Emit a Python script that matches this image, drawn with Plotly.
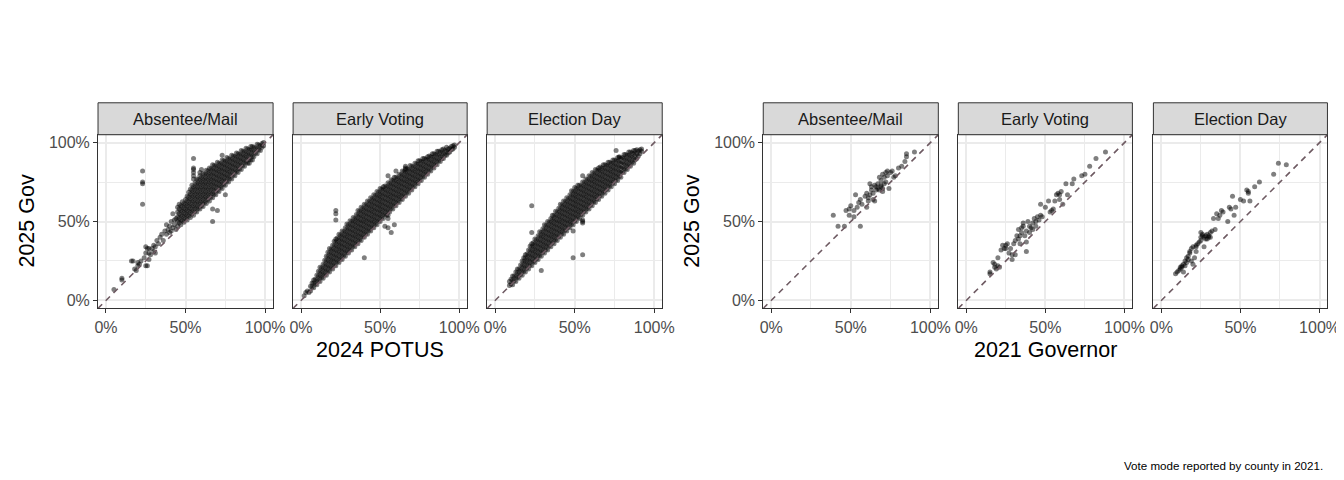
import plotly.graph_objects as go

# the page shot comes out slightly shifted and squeezed sideways, so window
# pixel positions are mapped back onto figure pixels below (px_x / px_y)
W, H = 1372, 464
SX, OX, OY = 0.988, 11, 7

modes = ["Absentee/Mail", "Early Voting", "Election Day"]

# 2024 POTUS vs 2025 Gov (percent). dense band as (x, [y values]) columns
potus_mail_cols = [
    (45, [47, 50, 53, 56, 59]), (46, [49, 52, 55, 58, 61]), (47, [48, 51, 54, 57, 60]),
    (48, [50.5, 53.5, 56.5, 59.5, 62.5]), (49, [49.5, 52.5, 55.5, 58.5, 61.5]),
    (50, [52, 55, 58, 61, 64]), (51, [51, 54, 57, 60, 63, 66]),
    (52, [53.5, 56.5, 59.5, 62.5, 65.5, 68.5]), (53, [52.5, 55.5, 58.5, 61.5, 64.5, 67.5, 70.5]),
    (54, [55, 58, 61, 64, 67, 70, 73]), (55, [54, 57, 60, 63, 66, 69, 72]),
    (56, [56.5, 59.5, 62.5, 65.5, 68.5, 71.5, 74.5]), (57, [56, 59, 62, 65, 68, 71, 74, 77]),
    (58, [58.5, 61.5, 64.5, 67.5, 70.5, 73.5, 76.5]), (59, [58, 61, 64, 67, 70, 73, 76, 79]),
    (60, [60, 63, 66, 69, 72, 75, 78]), (61, [59.5, 62.5, 65.5, 68.5, 71.5, 74.5, 77.5, 80.5]),
    (62, [62, 65, 68, 71, 74, 77, 80]), (63, [61.5, 64.5, 67.5, 70.5, 73.5, 76.5, 79.5, 82.5]),
    (64, [64, 67, 70, 73, 76, 79, 82]), (65, [63, 66, 69, 72, 75, 78, 81, 84]),
    (66, [65.5, 68.5, 71.5, 74.5, 77.5, 80.5, 83.5]), (67, [65, 68, 71, 74, 77, 80, 83, 86]),
    (68, [67.5, 70.5, 73.5, 76.5, 79.5, 82.5, 85.5]), (69, [67, 70, 73, 76, 79, 82, 85]),
    (70, [69.5, 72.5, 75.5, 78.5, 81.5, 84.5, 87.5]), (71, [69, 72, 75, 78, 81, 84, 87]),
    (72, [71.5, 74.5, 77.5, 80.5, 83.5, 86.5]), (73, [71, 74, 77, 80, 83, 86, 89]),
    (74, [73.5, 76.5, 79.5, 82.5, 85.5, 88.5]), (75, [73, 76, 79, 82, 85, 88]),
    (76, [75.5, 78.5, 81.5, 84.5, 87.5, 90.5]), (77, [75, 78, 81, 84, 87, 90]),
    (78, [77.5, 80.5, 83.5, 86.5, 89.5]), (79, [77, 80, 83, 86, 89, 92]),
    (80, [79.5, 82.5, 85.5, 88.5, 91.5]), (81, [79, 82, 85, 88, 91]),
    (82, [81.5, 84.5, 87.5, 90.5, 93.5]), (83, [81, 84, 87, 90, 93]),
    (84, [83.5, 86.5, 89.5, 92.5]), (85, [83, 86, 89, 92, 95]), (86, [85.5, 88.5, 91.5, 94.5]),
    (87, [85, 88, 91, 94]), (88, [87.5, 90.5, 93.5, 96.5]), (89, [87, 90, 93, 96]),
    (90, [89.5, 92.5, 95.5]), (91, [89, 92, 95, 97.5]), (92, [91.5, 94.5, 97.5]),
    (93, [91, 94, 97]), (94, [93.5, 96.5]), (95, [93, 96, 99]), (96, [95.5, 98.5]),
    (97, [95, 98]), (98, [97, 99.5]), (99, [98, 100]),
]
potus_mail_extra = [
    (5, 7), (10, 14), (10, 13), (17, 25), (18, 20), (19, 19), (20, 22), (21, 23), (22, 25),
    (24, 27), (25, 34), (26, 33), (27, 33), (25, 30), (26, 22), (27, 26), (28, 29), (29, 33),
    (30, 35), (31, 34), (30, 31), (32, 38), (33, 36), (34, 40), (35, 42), (36, 38), (37, 44),
    (38, 42), (38, 48), (39, 45), (40, 43), (40, 47), (41, 50), (41, 44), (42, 46), (43, 51),
    (43, 48), (44, 52), (44, 45), (42, 55), (16, 25), (20, 24), (25, 22), (27, 30), (31, 30),
    (23, 82), (23, 75), (23, 74), (23, 61), (55, 90), (55, 84), (55, 83), (55, 81), (55, 79),
    (55, 77), (67, 58), (70, 57), (67, 50), (75, 67), (73, 92), (90, 87), (92, 89), (59, 81),
    (60, 83),
]

potus_early_cols = [
    (6, [6, 9]), (7, [8.5, 11]), (8, [8, 11, 13]), (9, [10.5, 13.5]), (10, [10, 13, 16]),
    (11, [12.5, 15.5, 18.5]), (12, [12, 15, 18, 21]), (13, [14.5, 17.5, 20.5]),
    (14, [14, 17, 20, 23]), (15, [16.5, 19.5, 22.5, 25.5]), (16, [16, 19, 22, 25, 28]),
    (17, [18.5, 21.5, 24.5, 27.5, 30.5]), (18, [18, 21, 24, 27, 30, 33]),
    (19, [20.5, 23.5, 26.5, 29.5, 32.5]), (20, [20, 23, 26, 29, 32, 35]),
    (21, [22.5, 25.5, 28.5, 31.5, 34.5, 37.5]), (22, [22, 25, 28, 31, 34, 37, 39]),
    (23, [24.5, 27.5, 30.5, 33.5, 36.5, 39.5]), (24, [24, 27, 30, 33, 36, 39, 42]),
    (25, [26.5, 29.5, 32.5, 35.5, 38.5, 41.5]), (26, [26, 29, 32, 35, 38, 41, 44]),
    (27, [28.5, 31.5, 34.5, 37.5, 40.5, 43.5]), (28, [28, 31, 34, 37, 40, 43, 46]),
    (29, [30.5, 33.5, 36.5, 39.5, 42.5, 45.5, 48.5]), (30, [30, 33, 36, 39, 42, 45, 48]),
    (31, [32.5, 35.5, 38.5, 41.5, 44.5, 47.5, 50.5]), (32, [32, 35, 38, 41, 44, 47, 50]),
    (33, [34.5, 37.5, 40.5, 43.5, 46.5, 49.5, 52.5]), (34, [34, 37, 40, 43, 46, 49, 52]),
    (35, [36.5, 39.5, 42.5, 45.5, 48.5, 51.5, 54.5]), (36, [36, 39, 42, 45, 48, 51, 54, 57]),
    (37, [38.5, 41.5, 44.5, 47.5, 50.5, 53.5, 56.5]), (38, [38, 41, 44, 47, 50, 53, 56, 59]),
    (39, [40.5, 43.5, 46.5, 49.5, 52.5, 55.5, 58.5]), (40, [40, 43, 46, 49, 52, 55, 58, 61]),
    (41, [42.5, 45.5, 48.5, 51.5, 54.5, 57.5, 60.5]), (42, [42, 45, 48, 51, 54, 57, 60, 63]),
    (43, [44.5, 47.5, 50.5, 53.5, 56.5, 59.5, 62.5]), (44, [44, 47, 50, 53, 56, 59, 62, 65]),
    (45, [46.5, 49.5, 52.5, 55.5, 58.5, 61.5, 64.5]), (46, [46, 49, 52, 55, 58, 61, 64, 67]),
    (47, [48.5, 51.5, 54.5, 57.5, 60.5, 63.5, 66.5]), (48, [48, 51, 54, 57, 60, 63, 66, 69]),
    (49, [50.5, 53.5, 56.5, 59.5, 62.5, 65.5, 68.5]), (50, [50, 53, 56, 59, 62, 65, 68, 71]),
    (51, [52.5, 55.5, 58.5, 61.5, 64.5, 67.5, 70.5]), (52, [52, 55, 58, 61, 64, 67, 70, 72]),
    (53, [54.5, 57.5, 60.5, 63.5, 66.5, 69.5, 72.5]), (54, [54, 57, 60, 63, 66, 69, 72]),
    (55, [56.5, 59.5, 62.5, 65.5, 68.5, 71.5, 74.5]), (56, [56, 59, 62, 65, 68, 71, 74]),
    (57, [58.5, 61.5, 64.5, 67.5, 70.5, 73.5, 76.5]), (58, [58, 61, 64, 67, 70, 73, 76]),
    (59, [60.5, 63.5, 66.5, 69.5, 72.5, 75.5, 78]), (60, [60, 63, 66, 69, 72, 75, 78]),
    (61, [62.5, 65.5, 68.5, 71.5, 74.5, 77.5]), (62, [62, 65, 68, 71, 74, 77, 80]),
    (63, [64.5, 67.5, 70.5, 73.5, 76.5, 79.5]), (64, [64, 67, 70, 73, 76, 79, 82]),
    (65, [66.5, 69.5, 72.5, 75.5, 78.5, 81.5]), (66, [66, 69, 72, 75, 78, 81, 83]),
    (67, [68.5, 71.5, 74.5, 77.5, 80.5, 83.5]), (68, [68, 71, 74, 77, 80, 83]),
    (69, [70.5, 73.5, 76.5, 79.5, 82.5, 85.5]), (70, [70, 73, 76, 79, 82, 85]),
    (71, [72.5, 75.5, 78.5, 81.5, 84.5]), (72, [72, 75, 78, 81, 84, 87]),
    (73, [74.5, 77.5, 80.5, 83.5, 86.5]), (74, [74, 77, 80, 83, 86, 88.5]),
    (75, [76.5, 79.5, 82.5, 85.5, 88.5]), (76, [76, 79, 82, 85, 88]),
    (77, [78.5, 81.5, 84.5, 87.5, 90]), (78, [78, 81, 84, 87, 90]),
    (79, [80.5, 83.5, 86.5, 89.5]), (80, [80, 83, 86, 89, 91]), (81, [82.5, 85.5, 88.5, 91.5]),
    (82, [82, 85, 88, 91]), (83, [84.5, 87.5, 90.5, 93]), (84, [84, 87, 90, 93]),
    (85, [86.5, 89.5, 92.5]), (86, [86, 89, 92, 94.5]), (87, [88.5, 91.5, 94.5]),
    (88, [88, 91, 94]), (89, [90, 93, 95.5]), (90, [90, 93, 96]), (91, [92, 95]),
    (92, [92, 94.5, 97]), (93, [93.5, 96]), (94, [94, 96.5]), (95, [95.5, 97.5]),
    (96, [96, 98]), (97, [97, 98.5]),
]
potus_early_extra = [
    (2, 3), (3, 5), (4, 6), (5, 5), (22, 57), (22, 55), (22, 51), (40, 27), (55, 79), (60, 82),
    (66, 85), (66, 84), (53, 47), (55, 52), (55, 54), (57, 43), (55, 46), (59, 48),
]

potus_eday_cols = [
    (9, [9.5, 12]), (10, [10.5, 13.5]), (11, [10, 13, 15.5]), (12, [12.5, 15.5]),
    (13, [12, 15, 18]), (14, [14.5, 17.5, 20]), (15, [14, 17, 20]), (16, [16.5, 19.5, 22.5]),
    (17, [16, 19, 22, 25]), (18, [18.5, 21.5, 24.5, 27]), (19, [18, 21, 24, 27, 29]),
    (20, [20.5, 23.5, 26.5, 29.5]), (21, [20, 23, 26, 29, 32]),
    (22, [22.5, 25.5, 28.5, 31.5, 34.5]), (23, [22, 25, 28, 31, 34, 36]),
    (24, [24.5, 27.5, 30.5, 33.5, 36.5]), (25, [24, 27, 30, 33, 36, 39]),
    (26, [26.5, 29.5, 32.5, 35.5, 38.5]), (27, [26, 29, 32, 35, 38, 41]),
    (28, [28.5, 31.5, 34.5, 37.5, 40.5, 43.5]), (29, [28, 31, 34, 37, 40, 43]),
    (30, [30.5, 33.5, 36.5, 39.5, 42.5, 45.5]), (31, [30, 33, 36, 39, 42, 45, 48]),
    (32, [32.5, 35.5, 38.5, 41.5, 44.5, 47.5]), (33, [32, 35, 38, 41, 44, 47, 50]),
    (34, [34.5, 37.5, 40.5, 43.5, 46.5, 49.5]), (35, [34, 37, 40, 43, 46, 49, 52]),
    (36, [36.5, 39.5, 42.5, 45.5, 48.5, 51.5, 54]), (37, [36, 39, 42, 45, 48, 51, 54]),
    (38, [38.5, 41.5, 44.5, 47.5, 50.5, 53.5, 56.5]), (39, [38, 41, 44, 47, 50, 53, 56]),
    (40, [40.5, 43.5, 46.5, 49.5, 52.5, 55.5, 58.5]), (41, [40, 43, 46, 49, 52, 55, 58, 61]),
    (42, [42.5, 45.5, 48.5, 51.5, 54.5, 57.5, 60.5]), (43, [42, 45, 48, 51, 54, 57, 60, 63]),
    (44, [44.5, 47.5, 50.5, 53.5, 56.5, 59.5, 62.5]), (45, [44, 47, 50, 53, 56, 59, 62, 65]),
    (46, [46.5, 49.5, 52.5, 55.5, 58.5, 61.5, 64.5]), (47, [46, 49, 52, 55, 58, 61, 64, 67]),
    (48, [48.5, 51.5, 54.5, 57.5, 60.5, 63.5, 66.5, 69.5]), (49, [48, 51, 54, 57, 60, 63, 66, 69]),
    (50, [50.5, 53.5, 56.5, 59.5, 62.5, 65.5, 68.5, 71.5]), (51, [50, 53, 56, 59, 62, 65, 68, 71]),
    (52, [52.5, 55.5, 58.5, 61.5, 64.5, 67.5, 70.5, 73]), (53, [52, 55, 58, 61, 64, 67, 70, 73]),
    (54, [54.5, 57.5, 60.5, 63.5, 66.5, 69.5, 72.5]), (55, [54, 57, 60, 63, 66, 69, 72, 75]),
    (56, [56.5, 59.5, 62.5, 65.5, 68.5, 71.5, 74.5]), (57, [56, 59, 62, 65, 68, 71, 74, 77]),
    (58, [58.5, 61.5, 64.5, 67.5, 70.5, 73.5, 76.5]), (59, [58, 61, 64, 67, 70, 73, 76, 79]),
    (60, [60.5, 63.5, 66.5, 69.5, 72.5, 75.5, 78.5]), (61, [60, 63, 66, 69, 72, 75, 78, 81]),
    (62, [62.5, 65.5, 68.5, 71.5, 74.5, 77.5, 80.5]), (63, [62, 65, 68, 71, 74, 77, 80, 83]),
    (64, [64.5, 67.5, 70.5, 73.5, 76.5, 79.5, 82.5]), (65, [64, 67, 70, 73, 76, 79, 82, 84]),
    (66, [66.5, 69.5, 72.5, 75.5, 78.5, 81.5, 84.5]), (67, [66, 69, 72, 75, 78, 81, 84]),
    (68, [68.5, 71.5, 74.5, 77.5, 80.5, 83.5, 86]), (69, [68, 71, 74, 77, 80, 83, 86]),
    (70, [70.5, 73.5, 76.5, 79.5, 82.5, 85.5]), (71, [70, 73, 76, 79, 82, 85, 87.5]),
    (72, [72.5, 75.5, 78.5, 81.5, 84.5, 87.5]), (73, [72, 75, 78, 81, 84, 87]),
    (74, [74.5, 77.5, 80.5, 83.5, 86.5, 89]), (75, [74, 77, 80, 83, 86, 89]),
    (76, [76.5, 79.5, 82.5, 85.5, 88.5]), (77, [76, 79, 82, 85, 88, 90.5]),
    (78, [78.5, 81.5, 84.5, 87.5, 90.5]), (79, [78, 81, 84, 87, 90]),
    (80, [81.5, 84.5, 87.5, 90.5]), (81, [81, 84, 87, 90, 92.5]), (82, [83.5, 86.5, 89.5, 92.5]),
    (83, [83, 86, 89, 92]), (84, [85.5, 88.5, 91.5, 94]), (85, [85, 88, 91, 94]),
    (86, [87.5, 90.5, 93.5]), (87, [87, 90, 93, 95]), (88, [89, 92, 95]), (89, [90, 93, 95.5]),
    (90, [91.5, 94.5]), (91, [93, 95.5]), (92, [94.5, 96]),
]
potus_eday_extra = [
    (23, 60), (23, 43), (29, 19), (49, 27), (55, 29), (49, 44), (55, 51), (55, 50), (55, 49),
    (55, 79), (76, 95), (78, 91),
]

# 2021 Governor vs 2025 Gov (percent)
gov_mail = [
    (39, 54), (42, 47), (46, 47), (56, 47), (47, 57), (49, 58), (50, 60), (49, 54), (52, 53),
    (53, 67), (52, 57), (54, 59), (55, 62), (56, 64), (57, 61), (59, 66), (60, 59), (61, 63),
    (62, 67), (63, 70), (64, 64), (65, 63), (62, 74), (64, 68), (66, 72), (67, 74), (68, 78),
    (69, 76), (70, 71), (71, 78), (72, 81), (73, 82), (74, 71), (75, 81), (76, 82), (77, 78),
    (78, 79), (80, 84), (82, 85), (84, 88), (85, 91), (85, 93), (90, 94), (63, 72), (65, 73),
    (67, 71), (69, 73), (60, 68), (61, 65), (68, 70), (70, 69), (72, 75), (73, 79), (70, 80),
    (66, 70), (69, 72), (71, 74),
]
gov_early = [
    (15, 18), (15, 17), (17, 24), (18, 23), (18, 21), (20, 22), (21, 21), (20, 27), (22, 32),
    (23, 35), (25, 35), (26, 36), (25, 33), (28, 33), (29, 29), (29, 26), (27, 30), (24, 33),
    (30, 36), (31, 38), (32, 41), (33, 39), (34, 41), (33, 45), (35, 43), (35, 46), (36, 47),
    (37, 41), (38, 37), (38, 31), (38, 44), (39, 50), (40, 47), (41, 46), (42, 49), (43, 52),
    (44, 47), (45, 53), (46, 51), (47, 54), (48, 53), (47, 61), (50, 59), (52, 63), (53, 56),
    (55, 58), (54, 57), (56, 63), (57, 67), (58, 68), (59, 67), (60, 69), (59, 64), (61, 61),
    (64, 67), (63, 74), (67, 74), (68, 77), (73, 79), (75, 80), (78, 85), (82, 90), (88, 94),
    (31, 29), (36, 49), (40, 43), (42, 45), (44, 50), (34, 36), (19, 20),
]
gov_eday = [
    (9, 17), (10, 18), (11, 19), (12, 21), (13, 22), (14, 23), (15, 25), (16, 27), (17, 28),
    (18, 30), (18, 31), (19, 25), (20, 23), (21, 27), (22, 31), (20, 34), (22, 35), (24, 37),
    (25, 40), (26, 42), (27, 40), (28, 41), (29, 39), (30, 41), (31, 43), (32, 44), (25, 43),
    (27, 34), (34, 45), (33, 52), (35, 55), (36, 52), (37, 54), (38, 57), (39, 56), (42, 50),
    (43, 59), (45, 66), (46, 54), (47, 59), (50, 64), (52, 63), (54, 70), (55, 68), (56, 63),
    (59, 72), (62, 75), (71, 80), (74, 87), (79, 86), (12, 20), (13, 21), (15, 22), (16, 24),
    (19, 33), (22, 34), (25, 38), (28, 39), (29, 42), (30, 40), (14, 18), (17, 26), (23, 36),
    (26, 41), (31, 40), (44, 58), (55, 69),
]

diag_line = [-10, 110]
tick_vals = [0, 50, 100]
tick_text = ["0%", "50%", "100%"]


def expand_cols(cols, extra):
    xs, ys = [], []
    for x, col in cols:
        for y in col:
            xs.append(x)
            ys.append(y)
    for x, y in extra:
        xs.append(x)
        ys.append(y)
    return xs, ys


def split_pairs(pairs):
    return [p[0] for p in pairs], [p[1] for p in pairs]


def px_x(p):
    return (p - OX) / SX / W


def px_y(p):
    return 1 - (p - OY) / H


panels = [
    expand_cols(potus_mail_cols, potus_mail_extra),
    expand_cols(potus_early_cols, potus_early_extra),
    expand_cols(potus_eday_cols, potus_eday_extra),
    split_pairs(gov_mail),
    split_pairs(gov_early),
    split_pairs(gov_eday),
]

# window pixel layout of the panels (left, right)
panel_px = [(97, 272), (292, 466), (486, 661), (762, 937), (957, 1131), (1152, 1326)]
panel_top, panel_bottom, strip_top = 134, 308, 102

FONT = "Liberation Sans, Arial, Helvetica, sans-serif"
GRID = "#ebebeb"
BORDER = "#333333"

fig = go.Figure()

for i, (xs, ys) in enumerate(panels):
    ax = "" if i == 0 else str(i + 1)
    fig.add_trace(go.Scatter(
        x=xs, y=ys, mode="markers",
        marker=dict(color="black", size=5, opacity=0.5, line=dict(width=0)),
        xaxis="x" + ax, yaxis="y" + ax, showlegend=False, hoverinfo="skip",
    ))
    fig.add_trace(go.Scatter(
        x=diag_line, y=diag_line, mode="lines",
        line=dict(color="#6e5a62", width=1.6, dash="6px,5px"),
        xaxis="x" + ax, yaxis="y" + ax, showlegend=False, hoverinfo="skip",
    ))

ydom = [px_y(panel_bottom), px_y(panel_top)]
shapes = []
annotations = []
for i, (x0, x1) in enumerate(panel_px):
    ax = "" if i == 0 else str(i + 1)
    first = i in (0, 3)
    common = dict(
        range=[-5, 105], showgrid=True, gridcolor=GRID, gridwidth=1.6,
        zeroline=False, showline=True, mirror=True, linecolor=BORDER, linewidth=1,
        minor=dict(tickvals=[25, 75], showgrid=True, gridcolor=GRID, gridwidth=0.8, ticks=""),
        tickvals=tick_vals, ticktext=tick_text,
        tickfont=dict(family=FONT, size=16, color="#4d4d4d"),
        ticklen=4, tickwidth=1, tickcolor=BORDER,
    )
    fig.update_layout(**{
        "xaxis" + ax: dict(domain=[px_x(x0), px_x(x1)], anchor="y" + ax, ticks="outside", **common),
        "yaxis" + ax: dict(domain=ydom, anchor="x" + ax,
                           ticks="outside" if first else "", showticklabels=first, **common),
    })
    shapes.append(dict(
        type="rect", xref="paper", yref="paper",
        x0=px_x(x0), x1=px_x(x1), y0=px_y(panel_top), y1=px_y(strip_top),
        fillcolor="#d9d9d9", line=dict(color=BORDER, width=1), layer="above",
    ))
    annotations.append(dict(
        text=modes[i % 3], xref="paper", yref="paper",
        x=px_x((x0 + x1) / 2), y=px_y((panel_top + strip_top) / 2),
        showarrow=False, font=dict(family=FONT, size=16.5, color="#1a1a1a"),
        xanchor="center", yanchor="middle",
    ))

title_font = dict(family=FONT, size=21.5, color="black")
for x, txt in [(26, "2025 Gov"), (690, "2025 Gov")]:
    annotations.append(dict(
        text=txt, xref="paper", yref="paper", x=px_x(x), y=px_y(221),
        textangle=-90, showarrow=False, font=title_font, xanchor="center", yanchor="middle",
    ))
for x, txt in [(379, "2024 POTUS"), (1044, "2021 Governor")]:
    annotations.append(dict(
        text=txt, xref="paper", yref="paper", x=px_x(x), y=px_y(350),
        showarrow=False, font=title_font, xanchor="center", yanchor="middle",
    ))
annotations.append(dict(
    text="Vote mode reported by county in 2021.", xref="paper", yref="paper",
    x=px_x(1324), y=px_y(465), showarrow=False,
    font=dict(family=FONT, size=11.6, color="black"), xanchor="right", yanchor="middle",
))

fig.update_layout(
    width=W, height=H,
    margin=dict(l=0, r=0, t=0, b=0),
    paper_bgcolor="white", plot_bgcolor="white",
    shapes=shapes, annotations=annotations,
)

fig.write_html("out.html")
